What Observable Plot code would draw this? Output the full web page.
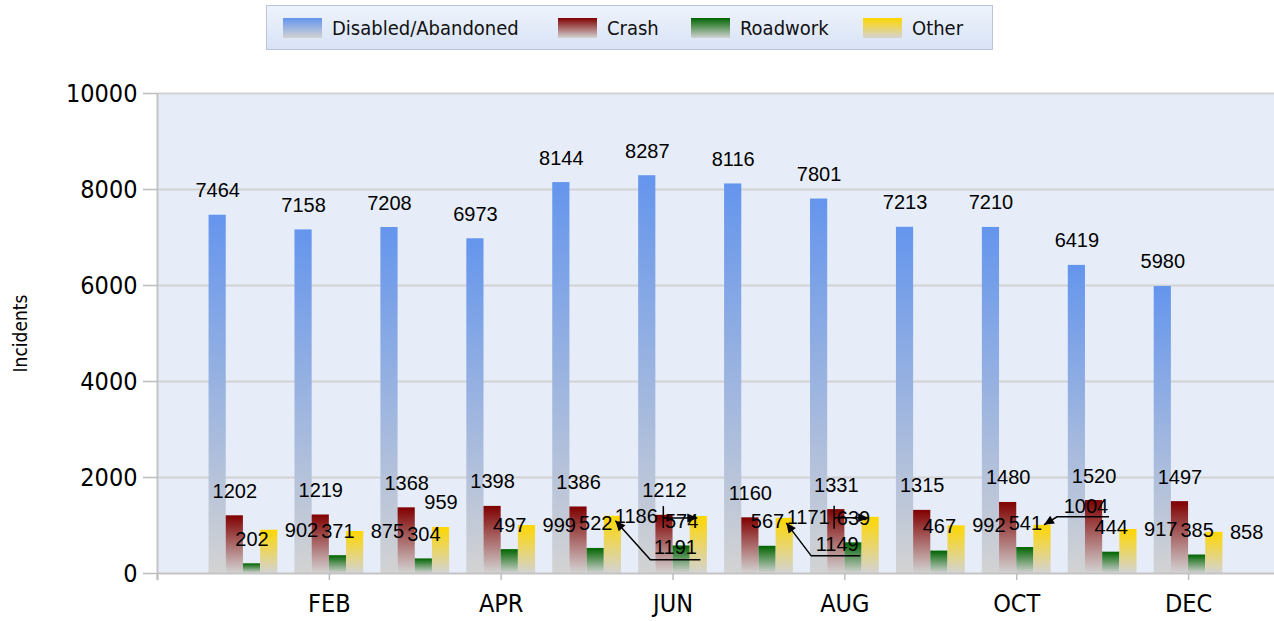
<!DOCTYPE html>
<html><head><meta charset="utf-8">
<script src="https://cdn.jsdelivr.net/npm/d3@7"></script>
<script src="https://cdn.jsdelivr.net/npm/@observablehq/plot@0.6"></script>
<style>
body{margin:0;background:#fff;font-family:"DejaVu Sans Condensed","DejaVu Sans",sans-serif;font-stretch:condensed;}
#legend{position:relative;height:55px;width:1274px;}
.lg{position:absolute;left:266px;top:5px;width:725px;height:43px;border:1px solid #b9c5d9;background:linear-gradient(#eef3fc,#d8e3f6);}
.item{position:absolute;top:12px;height:20px;display:flex;align-items:center;font-size:20px;color:#111;white-space:nowrap;}
.sw{width:39px;height:20px;margin-right:10px;flex:none;}
</style></head><body>
<div id="legend"><div class="lg" id="lg"></div></div>
<div id="chart"></div>
<script>
// ---- data ----
const months = ["JAN","FEB","MAR","APR","MAY","JUN","JUL","AUG","SEP","OCT","NOV","DEC"];
const series = ["Disabled/Abandoned","Crash","Roadwork","Other"];
const disabled = [7464,7158,7208,6973,8144,8287,8116,7801,7213,7210,6419,5980];
const crash    = [1202,1219,1368,1398,1386,1212,1160,1331,1315,1480,1520,1497];
const roadwork = [202,371,304,497,522,574,567,639,467,541,444,385];
const other    = [902,875,959,999,1191,1186,1149,1171,992,1004,917,858];
const xTickValues = [0,2,4,6,8,10,12];
const xTickLabels = ["","FEB","APR","JUN","AUG","OCT","DEC"];
const yTickValues = [0,2000,4000,6000,8000,10000];

// ---- styles / layout ----
const topColors = ["#6495ED","#800000","#006400","#FFD700"];
const bottomColor = "#D3D3D3";
const legendLeft = [16,291,424,596];
// label placement for the "Other" series (as the reference's label-collision layout)
const otherMode = ["right","right","top","right","callout","callout","callout","callout","right","callout","right","right"];
const calloutLayout = {
  5:  {label:[63,38],  path:[[88,44],[38,44],[3,5]]},
  6:  {label:[-62,7],  tick:[-35,-10,12], path:[[-35,2],[-1,2]]},
  7:  {label:[53,33],  path:[[76,38],[27,38],[2,5]]},
  8:  {label:[-62,7],  tick:[-36,-11,12], path:[[-36,1],[-2,1]]},
  10: {label:[44,-12], path:[[67,-8],[15,-8],[2,0]]}
};

const valuesBySeries = [disabled, crash, roadwork, other];
const data = [];
months.forEach((mo, i) => valuesBySeries.forEach((arr, k) =>
  data.push({month: mo, m: i + 1, k, series: series[k], value: arr[i]})));

const bw = 0.2;
const bx1 = d => d.m - 0.4 + bw * d.k;
const bx2 = d => d.m - 0.4 + bw * (d.k + 1);
const bxc = d => d.m - 0.3 + bw * d.k;

// legend
const lg = document.getElementById("lg");
series.forEach((s, k) => {
  const it = document.createElement("div");
  it.className = "item";
  it.style.left = legendLeft[k] + "px";
  it.innerHTML = `<div class="sw" style="background:linear-gradient(${topColors[k]},${bottomColor})"></div><span>${s}</span>`;
  lg.appendChild(it);
});

const labelFont = "'Liberation Sans', Arial, sans-serif";
const labelSize = 20;
const topLabels = data.filter(d => d.k < 3 || otherMode[d.m - 1] === "top");
const rightLabels = data.filter(d => d.k === 3 && otherMode[d.m - 1] === "right");

function callouts(index, scales) {
  const g = d3.create("svg:g");
  for (const [mStr, c] of Object.entries(calloutLayout)) {
    const m = +mStr, v = other[m - 1];
    const cx = scales.x(m + 0.3), ty = scales.y(v);
    g.append("text")
      .attr("x", cx + c.label[0]).attr("y", ty + c.label[1])
      .attr("text-anchor", "middle")
      .attr("font-family", labelFont).attr("font-size", labelSize).attr("fill", "#000")
      .text(v);
    if (c.tick) {
      g.append("line").attr("x1", cx + c.tick[0]).attr("x2", cx + c.tick[0])
        .attr("y1", ty + c.tick[1]).attr("y2", ty + c.tick[2])
        .attr("stroke", "#000").attr("stroke-width", 1.5);
    }
    const pts = c.path.map(([dx, dy]) => [cx + dx, ty + dy]);
    g.append("path").attr("d", "M" + pts.map(p => p.join(",")).join("L"))
      .attr("fill", "none").attr("stroke", "#000").attr("stroke-width", 1.5);
    const T = pts[pts.length - 1], P = pts[pts.length - 2];
    const len = Math.hypot(T[0] - P[0], T[1] - P[1]);
    const ux = (T[0] - P[0]) / len, uy = (T[1] - P[1]) / len;
    const hl = 10, hw = 4.5;
    const bxp = T[0] - ux * hl, byp = T[1] - uy * hl;
    g.append("path").attr("d",
      `M${T[0]},${T[1]}L${bxp - uy * hw},${byp + ux * hw}L${bxp + uy * hw},${byp - ux * hw}Z`)
      .attr("fill", "#000");
  }
  return g.node();
}

const chart = Plot.plot({
  width: 1274, height: 566,
  marginLeft: 157, marginRight: 0, marginTop: 38, marginBottom: 48,
  x: {domain: [0, 13], axis: null},
  y: {domain: [0, 10000], axis: null},
  style: {fontFamily: "'DejaVu Sans Condensed','DejaVu Sans',sans-serif", background: "transparent", color: "#000"},
  marks: [
    Plot.frame({fill: "#e6edf9", stroke: null}),
    Plot.ruleY(yTickValues.slice(1), {stroke: "#d2d2d2", strokeWidth: 2}),
    ...series.map((s, k) => Plot.rectY(data.filter(d => d.k === k), {
      x1: bx1, x2: bx2, y: "value", fill: `url(#grad${k})`
    })),
    Plot.ruleY([0], {stroke: "#c4c4c4", strokeWidth: 2}),
    Plot.ruleX([0], {stroke: "#c4c4c4", strokeWidth: 2, y1: -150, y2: 10000}),
    Plot.axisY({ticks: yTickValues, tickFormat: d => String(d), tickSize: 14, tickPadding: 6, fontSize: 25,
      stroke: "#bdbdbd", strokeWidth: 1.5, fill: "#000", label: null}),
    Plot.axisX({ticks: xTickValues, tickFormat: d => xTickLabels[xTickValues.indexOf(d)],
      tickSize: 7, tickPadding: 14, fontSize: 25, stroke: "#bdbdbd", strokeWidth: 1.5,
      fill: "#000", label: null}),
    Plot.text(["Incidents"], {frameAnchor: "left", dx: -137, rotate: -90, textAnchor: "middle",
      fontSize: 19, fill: "#000"}),
    Plot.text(topLabels, {x: bxc, y: "value", text: d => String(d.value), dy: -18,
      lineAnchor: "bottom", fontSize: labelSize, fontFamily: labelFont, fill: "#000"}),
    Plot.text(rightLabels, {x: d => d.m + 0.4, y: "value", text: d => String(d.value), dx: 7,
      textAnchor: "start", lineAnchor: "middle", fontSize: labelSize, fontFamily: labelFont, fill: "#000"}),
    callouts
  ]
});

// gradient defs for bars
const defs = d3.create("svg:defs");
topColors.forEach((c, k) => {
  const lgd = defs.append("linearGradient").attr("id", `grad${k}`)
    .attr("x1", 0).attr("y1", 0).attr("x2", 0).attr("y2", 1);
  lgd.append("stop").attr("offset", "0%").attr("stop-color", c);
  lgd.append("stop").attr("offset", "100%").attr("stop-color", bottomColor);
});
chart.insertBefore(defs.node(), chart.firstChild);
document.getElementById("chart").appendChild(chart);
</script>
</body></html>
